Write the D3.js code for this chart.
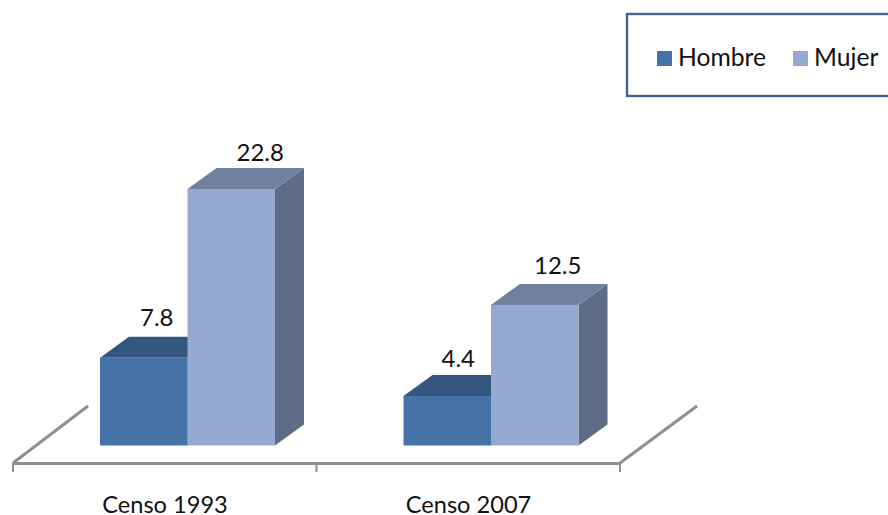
<!DOCTYPE html>
<html><head><meta charset="utf-8">
<script src="https://cdn.jsdelivr.net/npm/d3@7"></script>
<style>html,body{margin:0;padding:0;background:#fff}svg{display:block}text{font-family:Lato,"Open Sans",sans-serif;fill:#111}</style>
</head><body><svg id="c" width="888" height="515"></svg>
<script>
const categories = ["Censo 1993","Censo 2007"];
const seriesNames = ["Hombre","Mujer"];
const hombre = [7.8,4.4];
const mujer = [22.8,12.5];
const labelDx = {Hombre:[13,11],Mujer:[29,23]};
const labelDy = {Hombre:[-32,-29],Mujer:[-28,-31]};
const front = {Hombre:"#4672a8",Mujer:"#95a9d1"};
const topC = {Hombre:"#34577f",Mujer:"#6f819f"};
const sideC = {Hombre:"#2f4d72",Mujer:"#5e6c88"};
const W=888,H=515,depthX=29,depthY=21,base=445.5;

const svg=d3.select("#c");
const x=d3.scaleBand().domain(categories).range([13,620]);
const y=d3.scaleLinear().domain([0,25]).range([base,164.25]);
const inner=d3.scaleBand().domain(seriesNames).range([87,262]);
const axisY=463;

// floor
const grey="#8f8f8f";
const floor=[[13,88],[620,697]];
svg.selectAll("line.floor").data(floor).join("line").attr("class","floor")
  .attr("x1",d=>d[0]).attr("y1",axisY).attr("x2",d=>d[1]).attr("y2",406)
  .attr("stroke",grey).attr("stroke-width",3);

// axis
const axis=d3.axisBottom(x).tickValues([]).tickSize(0).tickSizeOuter(0);
const ag=svg.append("g").attr("transform",`translate(0,${axisY})`).call(axis);
ag.select(".domain").attr("stroke",grey).attr("stroke-width",3);
const tickXs=categories.map(c=>x(c)).concat([x.range()[1]]);
ag.selectAll("line.t").data(tickXs).join("line").attr("class","t")
  .attr("x1",d=>d).attr("x2",d=>d).attr("y1",0).attr("y2",9).attr("stroke",grey).attr("stroke-width",2);

// bars
const rows=[];
seriesNames.forEach((s,si)=>{
  const vals=si===0?hombre:mujer;
  categories.forEach((c,ci)=>rows.push({s,c,ci,v:vals[ci]}));
});
const g=svg.selectAll("g.bar").data(rows).join("g").attr("class","bar");
const pts=a=>a.map(p=>p.join(",")).join(" ");
g.append("polygon").attr("fill",d=>sideC[d.s]).attr("points",d=>{
  const r=x(d.c)+inner(d.s)+inner.bandwidth(),t=y(d.v);
  return pts([[r,t],[r+depthX,t-depthY],[r+depthX,y(0)-depthY],[r,y(0)]]);
});
g.append("polygon").attr("fill",d=>topC[d.s]).attr("points",d=>{
  const l=x(d.c)+inner(d.s),r=l+inner.bandwidth(),t=y(d.v);
  return pts([[l,t],[l+depthX,t-depthY],[r+depthX,t-depthY],[r,t]]);
});
g.append("rect").attr("fill",d=>front[d.s])
  .attr("x",d=>x(d.c)+inner(d.s)).attr("y",d=>y(d.v))
  .attr("width",inner.bandwidth()).attr("height",d=>y(0)-y(d.v));
g.append("text").attr("text-anchor","middle").attr("font-size",24)
  .attr("x",d=>x(d.c)+inner(d.s)+inner.bandwidth()/2+labelDx[d.s][d.ci])
  .attr("y",d=>y(d.v)+labelDy[d.s][d.ci])
  .text(d=>d.v.toFixed(1));

// category labels
svg.selectAll("text.cat").data(categories).join("text").attr("class","cat")
  .attr("text-anchor","middle").attr("font-size",23.6)
  .attr("x",c=>x(c)+152).attr("y",513).text(c=>c);

// legend
svg.append("rect").attr("x",627).attr("y",14).attr("width",300).attr("height",82)
  .attr("fill","none").attr("stroke","#3f6593").attr("stroke-width",2.4);
const lx=[657,793];
const lg=svg.selectAll("g.leg").data(seriesNames).join("g").attr("class","leg")
  .attr("transform",(d,i)=>`translate(${lx[i]},51)`);
lg.append("rect").attr("width",15).attr("height",15).attr("fill",d=>front[d]);
lg.append("text").attr("x",21).attr("y",15).attr("font-size",24.7).text(d=>d);
</script></body></html>
